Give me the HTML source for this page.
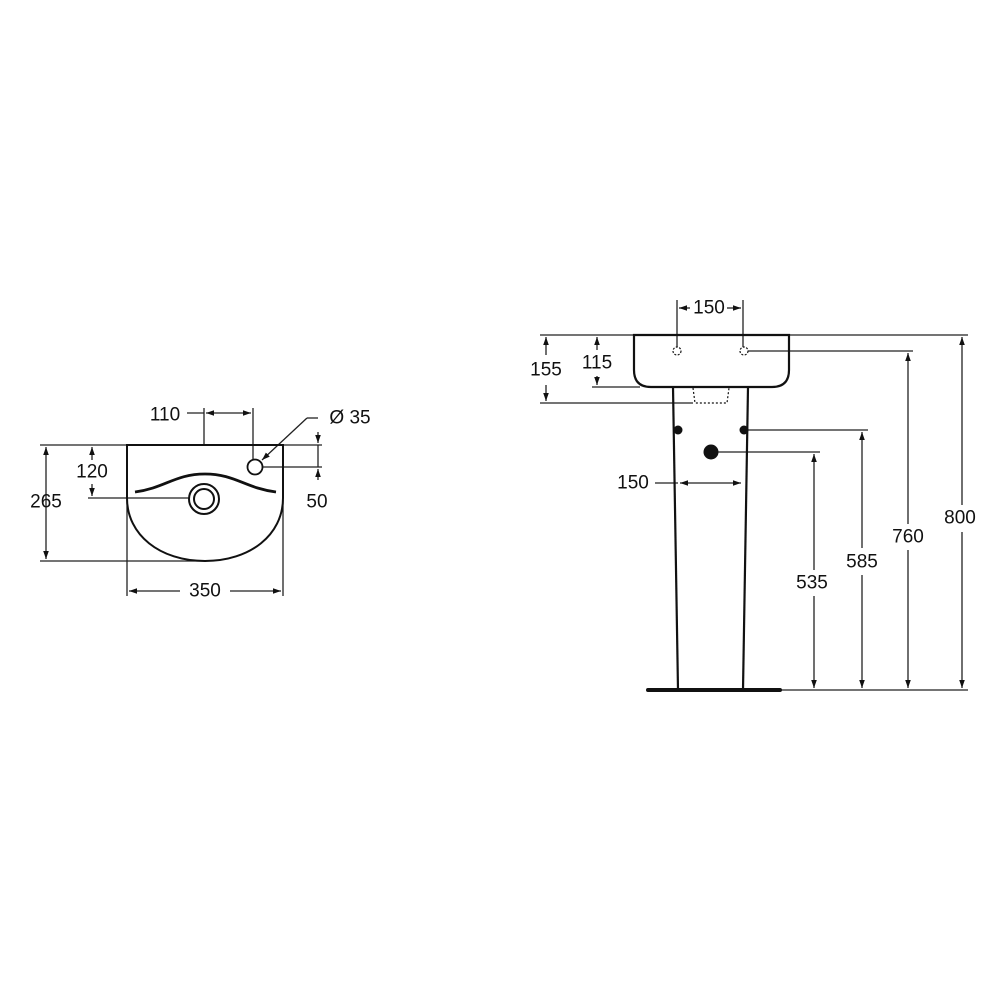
<!DOCTYPE html>
<html><head><meta charset="utf-8"><style>
html,body{margin:0;padding:0;background:#fff;}
svg{display:block;}
text{font-family:"Liberation Sans",sans-serif;font-size:19px;fill:#111;text-anchor:middle;dominant-baseline:central;}
</style></head><body>
<svg width="1000" height="1000" viewBox="0 0 1000 1000" xmlns="http://www.w3.org/2000/svg">
<defs>
<marker id="a" viewBox="0 0 10 10" refX="10" refY="5" markerWidth="8" markerHeight="8" orient="auto-start-reverse" markerUnits="userSpaceOnUse">
<path d="M0,1.5 L10,5 L0,8.5 z" fill="#111"/></marker>
</defs>
<g stroke="#222" stroke-width="1.3" fill="none">
<line x1="40" y1="445" x2="322" y2="445"/>
<line x1="40" y1="561" x2="205" y2="561"/>
<line x1="88" y1="498" x2="190" y2="498"/>
<line x1="46" y1="447" x2="46" y2="559" marker-start="url(#a)" marker-end="url(#a)"/>
<line x1="92" y1="447" x2="92" y2="460" marker-start="url(#a)"/>
<line x1="92" y1="484" x2="92" y2="496" marker-end="url(#a)"/>
<line x1="204" y1="408" x2="204" y2="445"/>
<line x1="253" y1="408" x2="253" y2="460"/>
<line x1="187" y1="413" x2="204" y2="413"/>
<line x1="206" y1="413" x2="251" y2="413" marker-start="url(#a)" marker-end="url(#a)"/>
<line x1="127" y1="500" x2="127" y2="596"/>
<line x1="283" y1="500" x2="283" y2="596"/>
<line x1="129" y1="591" x2="180" y2="591" marker-start="url(#a)"/>
<line x1="230" y1="591" x2="281" y2="591" marker-end="url(#a)"/>
<line x1="263" y1="467" x2="322" y2="467"/>
<line x1="318" y1="432" x2="318" y2="443" marker-end="url(#a)"/>
<line x1="318" y1="480" x2="318" y2="469" marker-end="url(#a)"/>
<line x1="318" y1="445" x2="318" y2="467"/>
<line x1="318" y1="418" x2="307" y2="418"/>
<line x1="307" y1="418" x2="262" y2="460" marker-end="url(#a)"/>
<line x1="540" y1="335" x2="968" y2="335"/>
<line x1="540" y1="403" x2="693" y2="403"/>
<line x1="592" y1="387" x2="640" y2="387"/>
<line x1="546" y1="337" x2="546" y2="355" marker-start="url(#a)"/>
<line x1="546" y1="385" x2="546" y2="401" marker-end="url(#a)"/>
<line x1="597" y1="337" x2="597" y2="350" marker-start="url(#a)"/>
<line x1="597" y1="376" x2="597" y2="385" marker-end="url(#a)"/>
<line x1="677" y1="300" x2="677" y2="347"/>
<line x1="743" y1="300" x2="743" y2="347"/>
<line x1="679" y1="308" x2="690" y2="308" marker-start="url(#a)"/>
<line x1="727" y1="308" x2="741" y2="308" marker-end="url(#a)"/>
<line x1="655" y1="483" x2="678" y2="483"/>
<line x1="680" y1="483" x2="741" y2="483" marker-start="url(#a)" marker-end="url(#a)"/>
<line x1="748" y1="351" x2="913" y2="351"/>
<line x1="748" y1="430" x2="868" y2="430"/>
<line x1="716" y1="452" x2="820" y2="452"/>
<line x1="780" y1="690" x2="968" y2="690"/>
<line x1="962" y1="337" x2="962" y2="505" marker-start="url(#a)"/>
<line x1="962" y1="532" x2="962" y2="688" marker-end="url(#a)"/>
<line x1="908" y1="353" x2="908" y2="524" marker-start="url(#a)"/>
<line x1="908" y1="550" x2="908" y2="688" marker-end="url(#a)"/>
<line x1="862" y1="432" x2="862" y2="548" marker-start="url(#a)"/>
<line x1="862" y1="575" x2="862" y2="688" marker-end="url(#a)"/>
<line x1="814" y1="454" x2="814" y2="570" marker-start="url(#a)"/>
<line x1="814" y1="596" x2="814" y2="688" marker-end="url(#a)"/>
</g>
<g stroke="#111" fill="none">
<path d="M127,445 L283,445 L283,498 C283,535 250,561 205,561 C160,561 127,535 127,498 Z" stroke-width="2" fill="none"/>
<path d="M135,492 C165,488 175,474 205,474 C235,474 245,488 276,492" stroke-width="2.8"/>
<circle cx="255" cy="467" r="7.5" stroke-width="1.8" fill="#fff"/>
<circle cx="204" cy="499" r="15" stroke-width="2" fill="#fff"/>
<circle cx="204" cy="499" r="10" stroke-width="2"/>
</g>
<g stroke="#111" fill="none">
<path d="M634,335 L789,335 L789,370 Q789,387 772,387 L651,387 Q634,387 634,370 Z" stroke-width="2.2"/>
<line x1="673" y1="387" x2="678" y2="690" stroke-width="2.2"/>
<line x1="748" y1="387" x2="743" y2="690" stroke-width="2.2"/>
<path d="M693,388 L695,403 L727,403 L729,388" stroke-width="1.2" stroke-dasharray="2,2"/>
<circle cx="677" cy="351" r="4" stroke-width="1.2" stroke-dasharray="2,1.5"/>
<circle cx="744" cy="351" r="4" stroke-width="1.2" stroke-dasharray="2,1.5"/>
<line x1="648" y1="690" x2="780" y2="690" stroke-width="4" stroke-linecap="round"/>
</g>
<circle cx="678" cy="430" r="4.5" fill="#111"/>
<circle cx="744" cy="430" r="4.5" fill="#111"/>
<circle cx="711" cy="452" r="7.5" fill="#111"/>
<text x="165" y="415">110</text>
<text x="350" y="418">Ø 35</text>
<text x="92" y="472">120</text>
<text x="46" y="502">265</text>
<text x="317" y="502">50</text>
<text x="205" y="591">350</text>
<text x="709" y="308">150</text>
<text x="546" y="370">155</text>
<text x="597" y="363">115</text>
<text x="633" y="483">150</text>
<text x="960" y="518">800</text>
<text x="908" y="537">760</text>
<text x="862" y="562">585</text>
<text x="812" y="583">535</text>
</svg>
</body></html>
